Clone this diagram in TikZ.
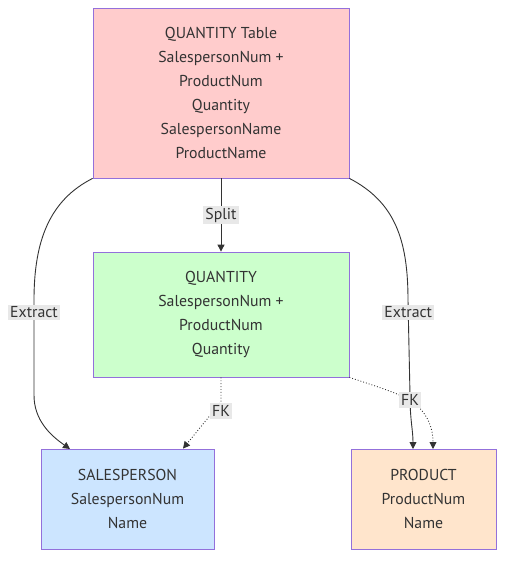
\documentclass[tikz,border=0pt]{standalone}
\usepackage{fontspec}
\setmainfont{PT Sans}
\usetikzlibrary{arrows.meta}
\definecolor{bord}{HTML}{9370DB}
\definecolor{ink}{HTML}{333333}
\definecolor{lbl}{HTML}{E8E8E8}
\definecolor{fred}{HTML}{FFCCCC}
\definecolor{fgreen}{HTML}{CCFFCC}
\definecolor{fblue}{HTML}{CCE5FF}
\definecolor{forange}{HTML}{FFE5CC}
\tikzset{
  box/.style={draw=bord, line width=0.8pt, align=center, inner sep=0pt, text=ink,
    font=\fontsize{15.8}{24}\selectfont},
  conn/.style={draw=ink, line width=0.9pt, -{Triangle[length=7pt,width=7pt]}},
  fk/.style={conn, dotted},
  elbl/.style={fill=lbl, text=ink, inner sep=2pt, font=\fontsize{15.8}{17}\selectfont}
}
\begin{document}
\begin{tikzpicture}[x=1pt,y=-1pt]
\useasboundingbox (0,0) rectangle (512,566);
\node[box, fill=fred, minimum width=256pt, minimum height=170pt] (top) at (221,93)
  {QUANTITY Table\\SalespersonNum +\\ProductNum\\Quantity\\SalespersonName\\ProductName};
\node[box, fill=fgreen, minimum width=256pt, minimum height=125pt] (mid) at (221,314.5)
  {QUANTITY\\SalespersonNum +\\ProductNum\\Quantity};
\node[box, fill=fblue, minimum width=173pt, minimum height=100pt] (sp) at (127.5,499)
  {SALESPERSON\\SalespersonNum\\Name};
\node[box, fill=forange, minimum width=145pt, minimum height=100pt] (pr) at (423.5,499)
  {PRODUCT\\ProductNum\\Name};

\coordinate (spin) at (70,449);
\coordinate (prin1) at (413,449);
\coordinate (prin2) at (433,449);
\coordinate (l1) at (34,300);
\coordinate (l2) at (34,395);
\coordinate (r1) at (408,300);
\coordinate (r2) at (410,395);
\coordinate (fkl) at (221,402);
\coordinate (fkr) at (410,400);

% Split
\draw[conn] (top.south) -- node[elbl]{Split} (mid.north);
% Extract left
\draw[conn] (top.south west) .. controls (50,200) and (34,240) .. (l1)
  -- node[elbl, pos=0.13]{Extract} (l2) .. controls (34,420) and (50,435) .. (spin);
% Extract right
\draw[conn] (top.south east) .. controls (395,202) and (408,240) .. (r1)
  -- node[elbl, pos=0.13]{Extract} (r2) .. controls (410,420) and (413,430) .. (prin1);
% FK left
\draw[fk] (mid.south) -- (fkl) -- (sp.north -| 183,0) ;
% FK right
\draw[fk] (mid.south east) .. controls (375,386) and (395,392) .. (fkr)
  .. controls (425,410) and (433,425) .. (prin2);
\node[elbl] at (221,411) {FK};
\node[elbl] at (410,400) {FK};
\end{tikzpicture}
\end{document}
